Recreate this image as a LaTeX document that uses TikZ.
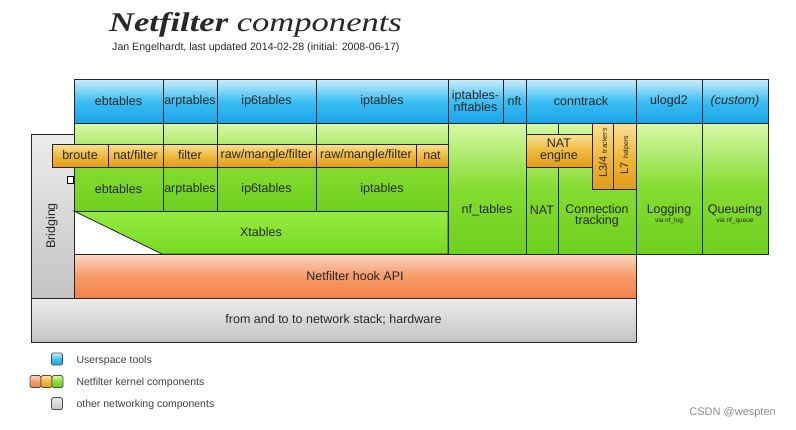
\documentclass[tikz,border=0pt]{standalone}
\usepackage{fontspec}
\usepackage{graphicx}
\setmainfont{Liberation Sans}
\newfontfamily\serifttl{Liberation Serif}
\usetikzlibrary{fit}
\definecolor{bluetop}{RGB}{205,238,252}
\definecolor{bluemid}{RGB}{60,190,243}
\definecolor{bluebot}{RGB}{25,163,232}
\definecolor{grtop}{RGB}{215,249,168}
\definecolor{grmid}{RGB}{132,220,48}
\definecolor{grbot}{RGB}{110,208,30}
\definecolor{xttop}{RGB}{150,235,65}
\definecolor{xtbot}{RGB}{118,218,35}
\definecolor{ortop}{RGB}{250,225,150}
\definecolor{ormid}{RGB}{240,185,60}
\definecolor{orbot}{RGB}{225,155,25}
\definecolor{hktop}{RGB}{252,215,195}
\definecolor{hkmid}{RGB}{246,155,105}
\definecolor{hkbot}{RGB}{240,130,75}
\definecolor{gytop}{RGB}{236,236,236}
\definecolor{gybot}{RGB}{195,195,195}
\definecolor{txt}{RGB}{40,40,40}
\newcommand\cellbox[7]{\node[#2, fit={(#3,#4)(#5,#6)}] (#1) {};
  \node[align=center, inner sep=0pt] (#1t) at (#1.center) {#7};}
\begin{document}
\begin{tikzpicture}[x=1pt,y=-1pt,
  font=\fontsize{12.5}{13}\selectfont,
  every node/.style={text=txt},
  bd/.style={draw=black!85, line width=0.8pt},
  cellbase/.style={bd, inner sep=0pt, outer sep=0pt},
  cellblue/.style={cellbase, top color=bluetop, bottom color=bluebot, middle color=bluemid},
  cellgreen/.style={cellbase, top color=grtop, bottom color=grbot, middle color=grmid},
  cellorange/.style={cellbase, top color=ortop, bottom color=orbot, middle color=ormid},
  cellhook/.style={cellbase, top color=hktop, bottom color=hkbot, middle color=hkmid},
  cellgray/.style={cellbase, top color=gytop, bottom color=gybot},
  tiny7/.style={font=\fontsize{6.5}{7}\selectfont},
  legtext/.style={anchor=west, text=black!75, font=\fontsize{10.5}{12}\selectfont},
  legsq/.style={draw=black!70, line width=0.7pt, rounded corners=1.5pt, inner sep=0pt, minimum width=11pt, minimum height=12pt},
]
\useasboundingbox (0,0) rectangle (796,429);
\fill[white] (0,0) rectangle (796,429);

% title
\node[anchor=base west, inner sep=0pt] (title) at (109,31)
  {\scalebox{1.28}[1]{\serifttl\fontsize{27}{30}\selectfont\bfseries\itshape Netfilter \mdseries components}};
\node[anchor=base west, inner sep=0pt, font=\fontsize{10.6}{12}\selectfont] (subtitle) at (112,50.5)
  {Jan Engelhardt, last updated 2014-02-28 (initial: 2008-06-17)};

% grey base
\cellbox{bridge}{cellgray}{31}{134}{74}{298}{}
\node[rotate=90] (bridget) at (52,226) {Bridging};
\cellbox{hw}{cellgray}{31}{298}{636}{342}{from and to to network stack; hardware}
\cellbox{hook}{cellhook}{74}{254}{636}{298}{Netfilter hook API}

% userspace row
\cellbox{ebtu}{cellblue}{74}{79}{163}{123}{ebtables}
\cellbox{arpu}{cellblue}{163}{79}{217}{123}{arptables}
\cellbox{ip6u}{cellblue}{217}{79}{316}{123}{ip6tables}
\cellbox{ipu}{cellblue}{316}{79}{448}{123}{iptables}
\cellbox{ipnu}{cellblue}{448}{79}{503}{123}{iptables-\\[-1.5pt]nftables}
\cellbox{nftu}{cellblue}{503}{79}{526}{123}{nft}
\cellbox{ctu}{cellblue}{526}{79}{636}{123}{conntrack}
\cellbox{ulogu}{cellblue}{636}{79}{702}{123}{ulogd2}
\cellbox{custu}{cellblue}{702}{79}{768}{123}{\textit{(custom)}}

% xtables area
\filldraw[bd, top color=xttop, bottom color=xtbot] (74,211) -- (448,211) -- (448,254) -- (162,254) -- cycle;
\node (xt) at (261,232) {Xtables};
\node[cellgreen, fit={(74,123)(163,211)}] (ebtk) {};
\node[cellgreen, fit={(163,123)(217,211)}] (arpk) {};
\node[cellgreen, fit={(217,123)(316,211)}] (ip6k) {};
\node[cellgreen, fit={(316,123)(448,211)}] (ipk) {};
\node (ebtkt) at (118.5,189) {ebtables};
\node (arpkt) at (190,189) {arptables};
\node (ip6kt) at (266.5,189) {ip6tables};
\node (ipkt) at (382,189) {iptables};

% chains band
\cellbox{brt}{cellorange}{52}{144}{108}{167}{broute}
\cellbox{natf}{cellorange}{108}{144}{163}{167}{nat/filter}
\cellbox{filt}{cellorange}{163}{144}{217}{167}{filter}
\cellbox{rmf6}{cellorange}{217}{144}{316}{167}{raw/mangle/filter}
\cellbox{rmf4}{cellorange}{316}{144}{416}{167}{raw/mangle/filter}
\cellbox{nat4}{cellorange}{416}{144}{448}{167}{nat}
\draw[line width=0.7pt, fill=white] (67,176) rectangle (73,183);

% right columns
\node[cellgreen, fit={(448,123)(526,254)}] (nft) {};
\node (nftt) at (487,210) {nf\_tables};
\node[cellgreen, fit={(526,123)(558,254)}] (natc) {};
\node (natct) at (542,210) {NAT};
\node[cellgreen, fit={(558,123)(636,254)}] (ct) {};
\node[align=center] (ctt) at (597,216) {Connection\\[-1.5pt]tracking};
\node[cellgreen, fit={(636,123)(702,254)}] (log) {};
\node (logt) at (669,210) {Logging};
\node[tiny7] (logv) at (669,221) {via nf\_log};
\node[cellgreen, fit={(702,123)(768,254)}] (que) {};
\node (quet) at (735,210) {Queueing};
\node[tiny7] (quev) at (735,221) {via nf\_queue};

\cellbox{nateng}{cellorange}{526}{134}{592}{167}{NAT\\[-1pt]engine}
\node[cellorange, fit={(592,123)(613,189)}] (l34) {};
\node[cellorange, fit={(613,123)(636,189)}] (l7) {};
\node[rotate=90, inner sep=0pt] (l34t) at (603,153) {\fontsize{11}{11}\selectfont L3/4 {\fontsize{7}{8}\selectfont trackers}};
\node[rotate=90, inner sep=0pt] (l7t) at (625,155) {\fontsize{11}{11}\selectfont L7 {\fontsize{7}{8}\selectfont helpers}};

% legend
\node[legsq, top color=bluetop, bottom color=bluebot, middle color=bluemid] (lgb) at (57,359) {};
\node[legtext] (lgbt) at (73,361) {Userspace tools};
\node[legsq, top color=hktop, bottom color=hkbot, middle color=hkmid] (lgo) at (35.5,381.5) {};
\node[legsq, top color=ortop, bottom color=orbot, middle color=ormid] (lgy) at (46.5,381.5) {};
\node[legsq, top color=grtop, bottom color=grbot, middle color=grmid] (lgg) at (57.5,381.5) {};
\node[legtext] (lgkt) at (73,383) {Netfilter kernel components};
\node[legsq, top color=gytop, bottom color=gybot] (lgg2) at (57,403.5) {};
\node[legtext] (lggt) at (73,405) {other networking components};

\node[anchor=east, text=black!45, font=\fontsize{11}{12}\selectfont, inner sep=0pt] (csdn) at (776,413) {CSDN @wespten};
\end{tikzpicture}
\end{document}
